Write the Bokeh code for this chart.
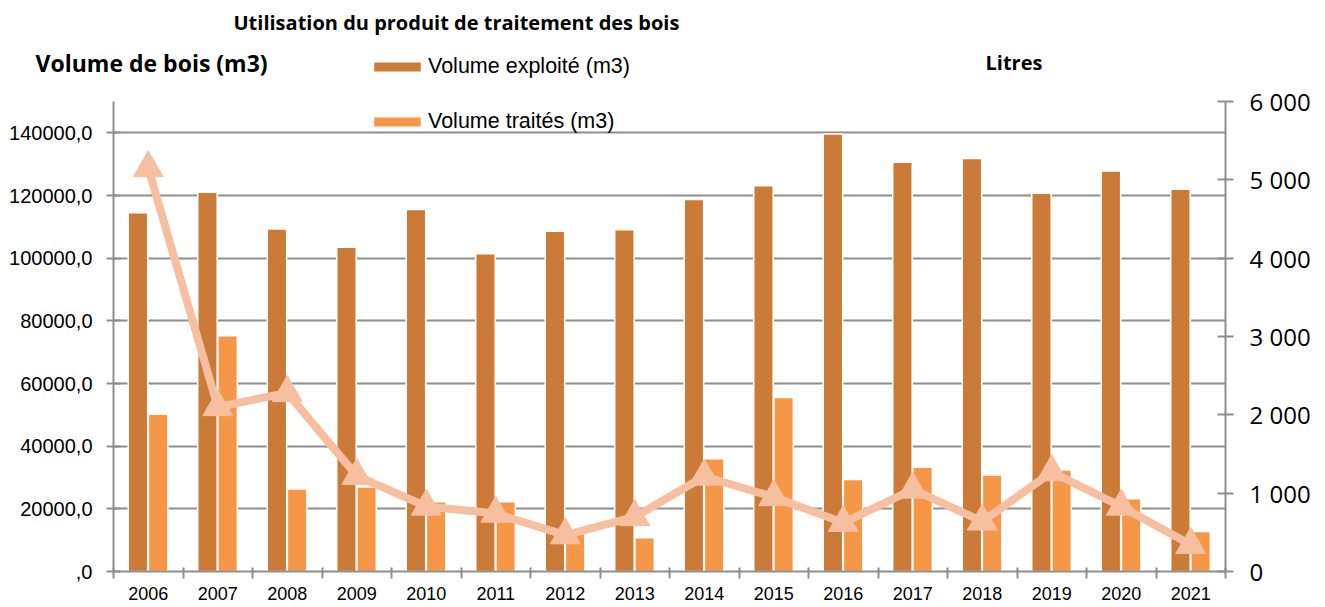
from bokeh.plotting import figure
from bokeh.layouts import column
from bokeh.models import Range1d, LinearAxis, FixedTicker, Label, Legend, LegendItem, ColumnDataSource
from bokeh.transform import dodge
from bokeh.embed import file_html
from bokeh.resources import INLINE

# ---- data ----
years = ["2006", "2007", "2008", "2009", "2010", "2011", "2012", "2013",
         "2014", "2015", "2016", "2017", "2018", "2019", "2020", "2021"]
vol_exploite = [114500, 121000, 109300, 103500, 115500, 101400, 108600, 109100,
                118700, 123100, 139600, 130600, 131800, 120700, 127800, 122000]
vol_traites = [50200, 75200, 26300, 27000, 22300, 22300, 12000, 10800,
               36000, 55500, 29400, 33300, 30800, 32400, 23200, 12800]
litres = [5150, 2100, 2280, 1220, 830, 740, 464, 696,
          1213, 951, 622, 1047, 639, 1268, 830, 341]

left_ticks = [0, 20000, 40000, 60000, 80000, 100000, 120000, 140000]
left_tick_labels = [",0", "20000,0", "40000,0", "60000,0", "80000,0",
                    "100000,0", "120000,0", "140000,0"]
right_ticks = [0, 1000, 2000, 3000, 4000, 5000, 6000]
right_tick_labels = ["0", "1 000", "2 000", "3 000", "4 000", "5 000", "6 000"]

DARK = "#CB7A37"
LIGHT = "#F59746"
PEACH = "#F6BFA0"
GRID = "#8E8E8E"

W = 1325
HEAD_H = 80
MAIN_H = 607 - HEAD_H
MAIN_TOP = 101 - HEAD_H

n = len(years)
centers = [i + 0.5 for i in range(n)]
src = ColumnDataSource(dict(x=centers, year=years, exploite=vol_exploite,
                            traites=vol_traites, litres=litres))

# ---- header (titles + first legend entry) ----
head = figure(width=W, height=HEAD_H, x_range=Range1d(0, n), y_range=Range1d(0, 150000),
              output_backend="svg", toolbar_location=None, title=None,
              x_axis_type=None, y_axis_type=None, min_border=0)
head.frame_align = False
head.outline_line_color = None
# hidden copy of the "exploité" bars, used only for the legend swatch
proxy = head.vbar(x="x", top="exploite", width=0.28, source=src,
                  fill_color=DARK, line_color="white", line_width=1.5, visible=False)
head_legend = Legend(items=[LegendItem(label="Volume exploité (m3)", renderers=[proxy])],
                     location=(367, HEAD_H - 79), orientation="vertical",
                     glyph_width=60, glyph_height=13, label_height=20,
                     label_standoff=1, padding=0, margin=0,
                     border_line_color=None, background_fill_alpha=0,
                     inactive_fill_alpha=0,
                     label_text_font="Liberation Sans", label_text_font_size="21.5px",
                     label_text_color="#000000")
head.add_layout(head_legend)
head.add_layout(Label(x=233, y=HEAD_H - 22, x_units="screen", y_units="screen",
                      text="Utilisation du produit de traitement des bois",
                      text_font="Open Sans", text_font_style="bold", text_font_size="20px",
                      text_baseline="middle", text_align="left", text_color="#000000"))
head.add_layout(Label(x=35, y=HEAD_H - 62, x_units="screen", y_units="screen",
                      text="Volume de bois (m3)",
                      text_font="Open Sans", text_font_style="bold", text_font_size="23px",
                      text_baseline="middle", text_align="left", text_color="#000000"))
head.add_layout(Label(x=985, y=HEAD_H - 62, x_units="screen", y_units="screen",
                      text="Litres",
                      text_font="Open Sans", text_font_style="bold", text_font_size="20px",
                      text_baseline="middle", text_align="left", text_color="#000000"))

# ---- main chart ----
p = figure(width=W, height=MAIN_H, x_range=Range1d(0, n), y_range=Range1d(0, 150000),
           output_backend="svg", toolbar_location=None, title=None,
           min_border_left=113, min_border_right=100, min_border_top=MAIN_TOP,
           min_border_bottom=36)
p.frame_align = False
p.extra_y_ranges = {"litres": Range1d(0, 6000)}
p.outline_line_color = None
p.background_fill_color = "white"

# grid
p.xgrid.visible = False
p.ygrid.ticker = FixedTicker(ticks=left_ticks)
p.ygrid.grid_line_color = GRID
p.ygrid.grid_line_width = 2

# x axis
xa = p.xaxis[0]
xa.ticker = FixedTicker(ticks=centers, minor_ticks=list(range(n + 1)))
xa.major_label_overrides = {c: y for c, y in zip(centers, years)}
xa.major_tick_in = 0
xa.major_tick_out = 0
xa.minor_tick_in = 4
xa.minor_tick_out = 7
xa.minor_tick_line_color = GRID
xa.minor_tick_line_width = 2
xa.axis_line_color = GRID
xa.axis_line_width = 2
xa.major_label_text_font = "Liberation Sans"
xa.major_label_text_font_size = "18px"
xa.major_label_text_color = "#000000"
xa.major_label_standoff = 8

# left axis
ya = p.yaxis[0]
ya.ticker = FixedTicker(ticks=left_ticks)
ya.major_label_overrides = {t: l for t, l in zip(left_ticks, left_tick_labels)}
ya.minor_tick_line_color = None
ya.major_tick_in = 7
ya.major_tick_out = 7
ya.major_tick_line_color = GRID
ya.major_tick_line_width = 2
ya.axis_line_color = GRID
ya.axis_line_width = 2
ya.major_label_text_font = "Liberation Sans"
ya.major_label_text_font_size = "20px"
ya.major_label_text_color = "#000000"
ya.major_label_standoff = 14

# right axis
ra = LinearAxis(y_range_name="litres", ticker=FixedTicker(ticks=right_ticks))
ra.major_label_overrides = {t: l for t, l in zip(right_ticks, right_tick_labels)}
ra.minor_tick_line_color = None
ra.major_tick_in = 8
ra.major_tick_out = 8
ra.major_tick_line_color = GRID
ra.major_tick_line_width = 2
ra.axis_line_color = GRID
ra.axis_line_width = 2
ra.major_label_text_font = "Open Sans"
ra.major_label_text_font_size = "24px"
ra.major_label_text_color = "#000000"
ra.major_label_standoff = 16
p.add_layout(ra, "right")

# bars
r1 = p.vbar(x=dodge("x", -0.148), top="exploite", width=0.28, source=src,
            fill_color=DARK, line_color="white", line_width=1.5)
r2 = p.vbar(x=dodge("x", 0.142), top="traites", width=0.28, source=src,
            fill_color=LIGHT, line_color="white", line_width=1.5)

# line with triangles
p.line("x", "litres", source=src, y_range_name="litres", line_color=PEACH,
       line_width=8, line_join="round")
p.scatter("x", "litres", source=src, y_range_name="litres", marker="triangle",
          size=30, fill_color=PEACH, line_color=PEACH)

# second legend entry (inside the plot area)
legend = Legend(items=[LegendItem(label="Volume traités (m3)", renderers=[r2])],
                location=(254, 437), orientation="vertical",
                glyph_width=60, glyph_height=13, label_height=20,
                label_standoff=1, padding=0, margin=0,
                border_line_color=None, background_fill_alpha=0,
                label_text_font="Liberation Sans", label_text_font_size="21.5px",
                label_text_color="#000000")
p.add_layout(legend)

layout = column(head, p, spacing=0)
open("out.html", "w").write(file_html(layout, INLINE))
